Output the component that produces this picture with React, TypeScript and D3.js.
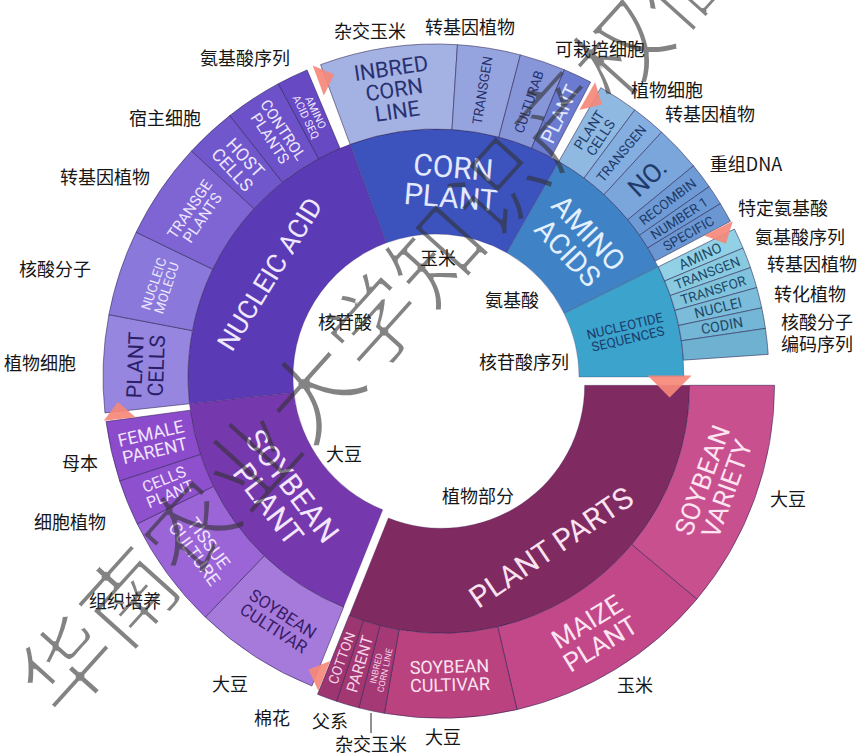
import React from "react";
import * as d3 from "d3";

const WIDTH = 864;
const HEIGHT = 754;

// Top-level categories, clockwise from 3 o'clock
const categories = ["PLANT PARTS", "SOYBEAN PLANT", "NUCLEIC ACID", "CORN PLANT", "AMINO ACIDS", "NUCLEOTIDE SEQUENCES"];
const categoryLabels = ["PLANT PARTS", "SOYBEAN\nPLANT", "NUCLEIC ACID", "CORN\nPLANT", "AMINO\nACIDS", "NUCLEOTIDE\nSEQUENCES"];

// Sub-categories of each category (clockwise) with their counts;
// the "rest" value is the unassigned remainder of the category.
const plantPartsItems = ["SOYBEAN\nVARIETY", "MAIZE\nPLANT", "SOYBEAN\nCULTIVAR", "INBRED\nCORN LINE", "PARENT", "COTTON"];
const plantPartsValues = [40, 37, 23, 4.5, 4, 3.5];
const plantPartsRest = 0;

const soybeanItems = ["SOYBEAN\nCULTIVAR", "TISSUE\nCULTURE", "CELLS\nPLANT", "FEMALE\nPARENT"];
const soybeanValues = [22, 20, 8, 10.5];
const soybeanRest = 1.5;

const nucleicItems = ["PLANT\nCELLS", "NUCLEIC\nMOLECU", "TRANSGE\nPLANTS", "HOST\nCELLS", "CONTROL\nPLANTS", "AMINO\nACID SEQ"];
const nucleicValues = [17, 15, 17, 9, 10, 5.5];
const nucleicRest = 2.5;

const cornItems = ["INBRED\nCORN\nLINE", "TRANSGEN", "CULTURAB", "PLANT"];
const cornValues = [24, 11, 8, 5];
const cornRest = 2;

const aminoItems = ["PLANT\nCELLS", "TRANSGEN", "NO.", "RECOMBIN", "NUMBER 1", "SPECIFIC"];
const aminoValues = [7, 6, 8, 4.5, 3.5, 3.5];
const aminoRest = 1.5;

const nucleotideItems = ["AMINO", "TRANSGEN", "TRANSFOR", "NUCLEI", "CODIN", ""];
const nucleotideValues = [3.6, 3.6, 3.6, 3.6, 3.6, 4.5];
const nucleotideRest = 3.9;

const itemLists = [plantPartsItems, soybeanItems, nucleicItems, cornItems, aminoItems, nucleotideItems];
const valueLists = [plantPartsValues, soybeanValues, nucleicValues, cornValues, aminoValues, nucleotideValues];
const restValues = [plantPartsRest, soybeanRest, nucleicRest, cornRest, aminoRest, nucleotideRest];

// Chinese term annotations
const calloutTexts = [
  "杂交玉米", "转基因植物", "可栽培细胞", "植物细胞", "转基因植物", "重组DNA", "特定氨基酸",
  "氨基酸序列", "转基因植物", "转化植物", "核酸分子", "编码序列",
  "大豆", "玉米", "大豆", "父系", "杂交玉米", "棉花", "大豆",
  "组织培养", "细胞植物", "母本", "植物细胞", "核酸分子", "转基因植物", "宿主细胞", "氨基酸序列",
  "玉米", "氨基酸", "核苷酸", "核苷酸序列", "大豆", "植物部分",
];
const calloutLayout: [number, number][] = [
  [370, 30], [470, 26], [600, 48], [667, 89], [710, 113], [746, 163], [783, 207],
  [800, 236], [812, 263], [810, 293], [817, 321], [817, 343],
  [788, 498], [635, 684], [443, 736], [330, 720], [371, 743], [272, 717], [230, 683],
  [125, 600], [70, 521], [80, 462], [40, 362], [55, 268], [105, 176], [165, 117], [245, 57],
  [438, 257], [512, 299], [345, 321], [524, 361], [344, 453], [478, 495],
];

const watermark = "华南农业大学知识产权信息服务";

// Styling
const palette: Record<string, { inner: string; innerText: string; outer: string[]; outerText: string[] }> = {
  "PLANT PARTS": {
    inner: "#7f2b62", innerText: "#fbe2f0",
    outer: ["#c9508f", "#c3488a", "#b9427f", "#a53975", "#a23772", "#9d3570"],
    outerText: ["#fde4f1", "#fde4f1", "#fde4f1", "#f6d3e6", "#f6d3e6", "#f6d3e6"],
  },
  "SOYBEAN PLANT": {
    inner: "#7638ad", innerText: "#f3e6ff",
    outer: ["#a67adb", "#9b64d7", "#8e50cd", "#8b4bcb"],
    outerText: ["#3a1d68", "#f1e4ff", "#f1e4ff", "#f1e4ff"],
  },
  "NUCLEIC ACID": {
    inner: "#5b3ab6", innerText: "#efe8ff",
    outer: ["#9686df", "#8a78da", "#7f65d3", "#7157cc", "#6c51c8", "#6649c3"],
    outerText: ["#2b2068", "#ece6ff", "#ece6ff", "#ece6ff", "#ece6ff", "#ece6ff"],
  },
  "CORN PLANT": {
    inner: "#3c53bd", innerText: "#e3e9ff",
    outer: ["#a3b1e3", "#95a4de", "#8696d8", "#6b7cd0"],
    outerText: ["#283070", "#283070", "#283070", "#e3e9ff"],
  },
  "AMINO ACIDS": {
    inner: "#3f82c6", innerText: "#e3f0ff",
    outer: ["#90b9e2", "#84aee0", "#7ba6db", "#6e9bd5", "#6d9ad4", "#6a96d1"],
    outerText: ["#1f3b6b", "#1f3b6b", "#1f3b6b", "#1f3b6b", "#1f3b6b", "#1f3b6b"],
  },
  "NUCLEOTIDE SEQUENCES": {
    inner: "#3ba3cc", innerText: "#1b3d6b",
    outer: ["#92d1e5", "#89cae1", "#81c3dd", "#7abcd9", "#74b6d5", "#6fb1d1"],
    outerText: ["#1d4a68", "#1d4a68", "#1d4a68", "#1d4a68", "#1d4a68", "#1d4a68"],
  },
};

const CX = 436;
const CY = 377;
const START = Math.PI / 2;
const EXPLODED = "PLANT PARTS";
const EXPLODE_DIST = 10;
const LABEL_FONT = "Roboto, 'DejaVu Sans', sans-serif";
const CJK_FONT = "'Noto Sans CJK SC', sans-serif";

type Datum = { name: string; label?: string; value?: number; rest?: boolean; children?: Datum[] };

function buildTree(): Datum {
  return {
    name: "root",
    children: categories.map((c, i) => ({
      name: c,
      label: categoryLabels[i],
      children: [
        ...itemLists[i].map((n, j) => ({ name: n, label: n, value: valueLists[i][j] })),
        ...(restValues[i] > 0 ? [{ name: "", value: restValues[i], rest: true }] : []),
      ],
    })),
  };
}

function fitFont(lines: string[], availW: number, availH: number, max: number) {
  const maxChars = Math.max(...lines.map((l) => l.length), 1);
  return Math.max(6, Math.min(max, availW / (maxChars * 0.68), availH / (lines.length * 1.1)));
}

export default function App() {
  const root = d3.hierarchy<Datum>(buildTree()).sum((d) => d.value || 0);
  d3.partition<Datum>().size([2 * Math.PI, 3])(root);

  const radius = d3.scaleLinear().domain([1, 2, 3]).range([143, 248, 333]);

  const arc = d3
    .arc<any>()
    .startAngle((d) => d.x0 + START)
    .endAngle((d) => d.x1 + START)
    .innerRadius((d) => radius(d.y0))
    .outerRadius((d) => radius(d.y1));

  const topNodes = root.children || [];

  const offsetFor = (top: any) => {
    if (top.data.name !== EXPLODED) return [0, 0];
    const mid = (top.x0 + top.x1) / 2 + START;
    return [EXPLODE_DIST * Math.sin(mid), -EXPLODE_DIST * Math.cos(mid)];
  };

  const renderLabel = (node: any, color: string, maxFont: number, tangentialMinDeg: number, key: string) => {
    const text: string = node.data.label || "";
    if (!text) return null;
    const lines = text.split("\n");
    const a0 = node.x0 + START;
    const a1 = node.x1 + START;
    const a = (a0 + a1) / 2;
    const r = (radius(node.y0) + radius(node.y1)) / 2;
    const thick = radius(node.y1) - radius(node.y0);
    const arcLen = (a1 - a0) * r;
    const spanDeg = ((a1 - a0) * 180) / Math.PI;
    const deg = ((a * 180) / Math.PI) % 360;
    const tangential = spanDeg >= tangentialMinDeg;
    let rot: number;
    let fs: number;
    if (tangential) {
      rot = deg > 90 && deg < 270 ? deg - 180 : deg;
      fs = fitFont(lines, arcLen * 0.84, thick * 0.84, maxFont);
    } else {
      rot = deg < 180 ? deg - 90 : deg + 90;
      fs = fitFont(lines, thick * 0.86, arcLen * 0.86, maxFont);
    }
    const x = r * Math.sin(a);
    const y = -r * Math.cos(a);
    const lh = 1.0;
    return (
      <text
        key={key}
        transform={`translate(${x},${y}) rotate(${rot})`}
        textAnchor="middle"
        fontFamily={LABEL_FONT}
        fontSize={fs}
        fill={color}
      >
        {lines.map((l, i) => (
          <tspan key={i} x={0} dy={i === 0 ? `${(-(lines.length - 1) / 2) * lh + 0.35}em` : `${lh}em`}>
            {l}
          </tspan>
        ))}
      </text>
    );
  };

  // Triangle markers at the start of every category, pointing clockwise
  const markers = topNodes.map((top: any, i: number) => {
    const a = top.x0 + START;
    const r = top.data.name === EXPLODED ? radius(2) - 20 : radius(3) - 14;
    const [ox, oy] = offsetFor(top);
    const x = CX + ox + r * Math.sin(a);
    const y = CY + oy - r * Math.cos(a);
    const deg = (a * 180) / Math.PI;
    const b = top.data.name === EXPLODED ? 44 : 32;
    const h = top.data.name === EXPLODED ? 22 : 17;
    return (
      <path
        key={`m${i}`}
        d={`M${h * 0.55},0 L${-h * 0.45},${-b / 2} L${-h * 0.45},${b / 2} Z`}
        transform={`translate(${x},${y}) rotate(${deg})`}
        fill="#f5887a"
        opacity={0.92}
      />
    );
  });

  return (
    <svg
      width={WIDTH}
      height={HEIGHT}
      viewBox={`0 0 ${WIDTH} ${HEIGHT}`}
      style={{ position: "absolute", left: 0, top: 0, background: "#ffffff" }}
    >
      <defs>
        <filter id="thin" x="-5%" y="-5%" width="110%" height="110%">
          <feMorphology operator="erode" radius={1.4} />
        </filter>
      </defs>
      <rect width={WIDTH} height={HEIGHT} fill="#ffffff" />
      {topNodes.map((top: any, i: number) => {
        const pal = palette[top.data.name];
        const [ox, oy] = offsetFor(top);
        const kids = (top.children || []) as any[];
        return (
          <g key={top.data.name} transform={`translate(${CX + ox},${CY + oy})`}>
            <path d={arc(top) || ""} fill={pal.inner} stroke="#3b2456" strokeOpacity={0.35} strokeWidth={0.8} />
            {kids.map((k, j) =>
              k.data.rest ? null : (
                <path
                  key={j}
                  d={arc(k) || ""}
                  fill={pal.outer[j % pal.outer.length]}
                  stroke="#2c2050"
                  strokeOpacity={0.55}
                  strokeWidth={1}
                />
              )
            )}
            {renderLabel(top, pal.innerText, 30, 30, `t${i}`)}
            {kids.map((k, j) =>
              k.data.rest ? null : renderLabel(k, pal.outerText[j % pal.outerText.length], 26, 14, `c${i}-${j}`)
            )}
          </g>
        );
      })}
      {markers}
      <line x1={371} y1={713} x2={371} y2={733} stroke="#222" strokeWidth={1} />
      {calloutTexts.map((t, i) => (
        <text
          key={`cn${i}`}
          x={calloutLayout[i][0]}
          y={calloutLayout[i][1]}
          textAnchor="middle"
          dominantBaseline="central"
          fontFamily={CJK_FONT}
          fontSize={18}
          fill="#161616"
        >
          {t}
        </text>
      ))}
      <g filter="url(#thin)" opacity={0.6}>
        <text transform="translate(62,722) rotate(-48)" fontFamily={CJK_FONT} fontSize={92} fill="#333333">
          {watermark}
        </text>
      </g>
    </svg>
  );
}
